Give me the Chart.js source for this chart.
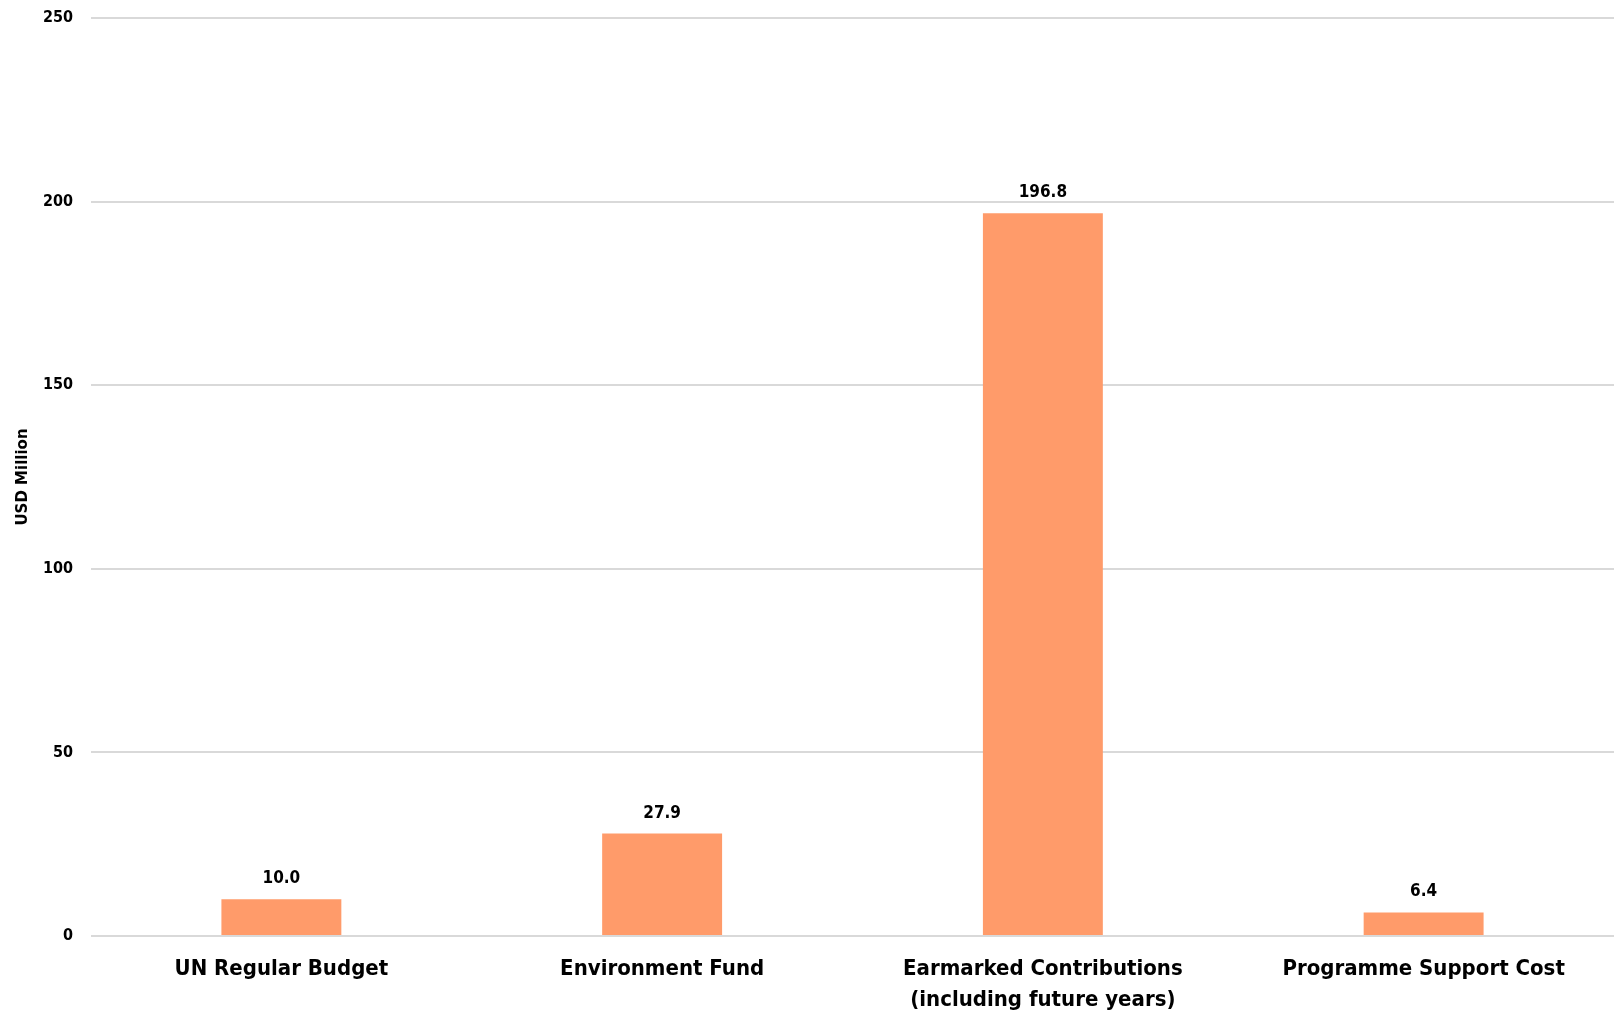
<!DOCTYPE html>
<html>
<head>
<meta charset="utf-8">
<script src="https://cdn.jsdelivr.net/npm/chart.js@4/dist/chart.umd.min.js"></script>
<style>
  html, body { margin: 0; padding: 0; background: #fff; }
  #wrap { width: 1614px; height: 1017px; position: relative; }
</style>
</head>
<body>
<div id="wrap"><canvas id="grafico"></canvas></div>
<script>
// dados do gráfico
const categorias = [
  "UN Regular Budget",
  "Environment Fund",
  ["Earmarked Contributions", "(including future years)"],
  "Programme Support Cost"
];
const valores = [10.0, 27.9, 196.8, 6.4];
const rotulosValores = ["10.0", "27.9", "196.8", "6.4"];
const eixoY = { min: 0, max: 250, passo: 50 };

const corBarra = "#FF9B6A";
const corGrade = "#d9d9d9";

// Rótulos em cima das barras
const rotulosBarras = {
  id: "rotulosBarras",
  afterDatasetsDraw(chart) {
    const ctx = chart.ctx;
    const meta = chart.getDatasetMeta(0);
    ctx.save();
    ctx.fillStyle = "#000";
    ctx.font = "bold 17px 'DejaVu Sans Condensed', 'DejaVu Sans', sans-serif";
    ctx.textAlign = "center";
    ctx.textBaseline = "alphabetic";
    meta.data.forEach((bar, i) => {
      ctx.fillText(rotulosValores[i], bar.x, bar.y - 16);
    });
    ctx.restore();
  }
};

const ctx = document.getElementById("grafico");
new Chart(ctx, {
  type: "bar",
  data: {
    labels: categorias,
    datasets: [{
      data: valores,
      backgroundColor: corBarra,
      borderWidth: 0,
      categoryPercentage: 1.0,
      barPercentage: 0.315
    }]
  },
  options: {
    responsive: true,
    maintainAspectRatio: false,
    animation: false,
    layout: { padding: { top: 0, right: 0, bottom: 0, left: 0 } },
    plugins: {
      legend: { display: false },
      tooltip: { enabled: false }
    },
    scales: {
      x: {
        afterFit(scale) { scale.height = 81; },
        grid: { display: false, drawTicks: false },
        border: { display: false },
        ticks: {
          color: "#000",
          padding: 18,
          maxRotation: 0,
          autoSkip: false,
          font: { family: "'DejaVu Sans Condensed', 'DejaVu Sans', sans-serif", size: 22, weight: "bold", lineHeight: 1.4 }
        }
      },
      y: {
        min: eixoY.min,
        max: eixoY.max,
        afterFit(scale) {
          scale.width = 91;
          scale.paddingTop = 18;
          scale.paddingBottom = 0;
        },
        grid: { color: corGrade, lineWidth: 2, drawTicks: false },
        border: { display: false },
        ticks: {
          stepSize: eixoY.passo,
          color: "#000",
          padding: 18,
          font: { family: "'DejaVu Sans Condensed', 'DejaVu Sans', sans-serif", size: 16, weight: "bold" }
        },
        title: {
          display: true,
          text: "USD Million",
          color: "#000",
          padding: { top: 14, bottom: 0 },
          font: { family: "'DejaVu Sans', sans-serif", size: 15, weight: "bold" }
        }
      }
    }
  },
  plugins: [rotulosBarras]
});
</script>
</body>
</html>
